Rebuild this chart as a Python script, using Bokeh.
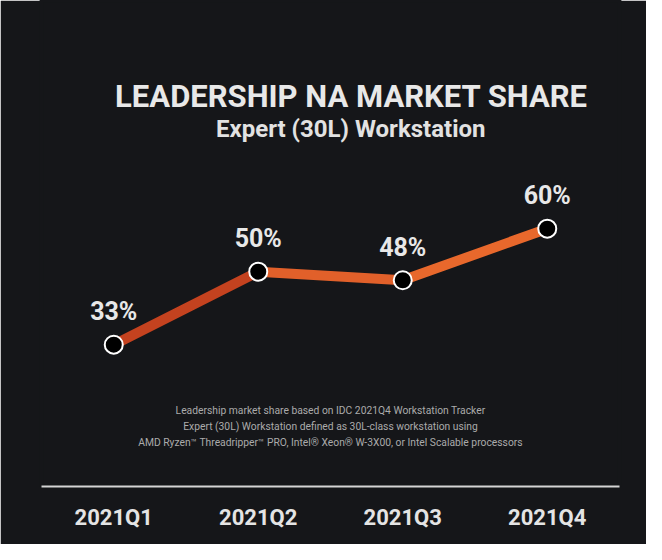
from bokeh.plotting import figure
from bokeh.models import ColumnDataSource, Label, FactorRange, Range1d
from bokeh.core.properties import value
from bokeh.embed import file_html
from bokeh.resources import INLINE

# ---- data ----
quarters = ["2021Q1", "2021Q2", "2021Q3", "2021Q4"]
share = [33, 50, 48, 60]
share_labels = ["33%", "50%", "48%", "60%"]

title_text = "LEADERSHIP NA MARKET SHARE"
subtitle_text = "Expert (30L) Workstation"
footnote_lines = [
    "Leadership market share based on IDC 2021Q4 Workstation Tracker",
    "Expert (30L) Workstation defined as 30L-class workstation using",
    "AMD Ryzen\u2122 Threadripper\u2122 PRO, Intel\u00ae Xeon\u00ae W-3X00, or Intel Scalable processors",
]

BG = "#151619"
FONT = "Roboto"

p = figure(
    width=646, height=544,
    x_range=FactorRange(*quarters),
    y_range=Range1d(0, 113.1),
    output_backend="svg", toolbar_location=None,
    y_axis_location=None,
    min_border_left=41, min_border_right=27, min_border_top=0, min_border_bottom=58,
    background_fill_color=BG, border_fill_color=BG,
)
p.outline_line_color = BG
p.outline_line_width = 4
p.grid.grid_line_color = None

xa = p.xaxis[0]
xa.axis_line_color = "#d4d4d4"
xa.axis_line_width = 2
xa.major_tick_line_color = None
xa.minor_tick_line_color = None
xa.major_label_text_font = FONT
xa.major_label_text_font_style = "bold"
xa.major_label_text_font_size = "22px"
xa.major_label_text_color = "#e4e4e4"
xa.major_label_standoff = 12

# line segments (per-segment colour approximating the gradient)
seg = ColumnDataSource(dict(
    x0=quarters[:-1], x1=quarters[1:], y0=share[:-1], y1=share[1:],
    c=["#c4421f", "#e1602a", "#e8682c"],
))
p.segment("x0", "y0", "x1", "y1", source=seg, line_color="c", line_width=10, line_cap="round")

src = ColumnDataSource(dict(q=quarters, v=share, t=share_labels))
p.scatter("q", "v", source=src, size=18, fill_color="#000000",
          line_color="#ffffff", line_width=2)
p.text("q", "v", text="t", source=src, y_offset=-33,
       text_align="center", text_baseline="middle",
       text_font=value(FONT), text_font_style="bold",
       text_font_size="25px", text_color="#e8e8e8")

p.add_layout(Label(x=2.145, y=90.8, text=title_text, text_align="center",
                   text_baseline="middle", text_font=FONT, text_font_style="bold",
                   text_font_size="31px", text_color="#e8e8e8"))
p.add_layout(Label(x=2.14, y=83.3, text=subtitle_text, text_align="center",
                   text_baseline="middle", text_font=FONT, text_font_style="bold",
                   text_font_size="24px", text_color="#e2e2e2"))

for line, yv in zip(footnote_lines, [17.7, 14.0, 10.2]):
    p.add_layout(Label(x=2.0, y=yv, text=line, text_align="center",
                       text_baseline="middle", text_font=FONT,
                       text_font_size="10.3px", text_color="#ababab"))

open("out.html", "w").write(file_html(p, INLINE))
